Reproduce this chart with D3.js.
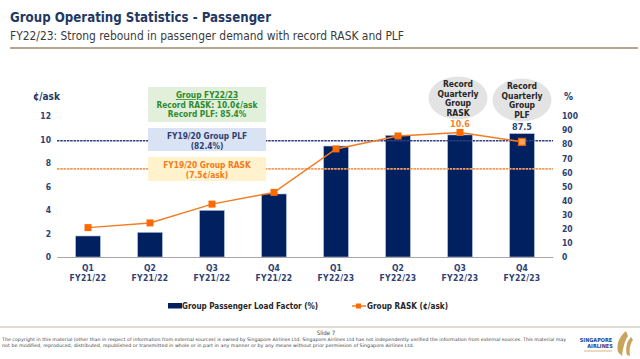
<!DOCTYPE html>
<html>
<head>
<meta charset="utf-8">
<title>Group Operating Statistics - Passenger</title>
<script src="https://d3js.org/d3.v7.min.js"></script>
<style>
  body { margin: 0; background: #fff; }
  svg text { font-family: "DejaVu Sans Condensed", "DejaVu Sans", sans-serif; font-stretch: condensed; }
</style>
</head>
<body>
<svg width="640" height="359"></svg>
<script>
// quarters (two line labels)
var quarters = ["Q1|FY21/22", "Q2|FY21/22", "Q3|FY21/22", "Q4|FY21/22",
                "Q1|FY22/23", "Q2|FY22/23", "Q3|FY22/23", "Q4|FY22/23"];
// group passenger load factor, % (bars, right axis)
var plf = [14.9, 17.5, 33.1, 44.7, 78.7, 86.3, 86.6, 87.5];
// group RASK, cents/ask (line, left axis)
var rask = [2.5, 2.9, 4.5, 5.5, 9.2, 10.3, 10.6, 9.8];
var leftTicks = [0, 2, 4, 6, 8, 10, 12];
var rightTicks = [0, 10, 20, 30, 40, 50, 60, 70, 80, 90, 100];
// FY19/20 reference levels
var refPLF = 82.4;
var refRASK = 7.5;

var navy = "#002060", orange = "#f47b20", textNavy = "#2e3f73";

var svg = d3.select("svg");

// header
svg.append("text").attr("x", 10).attr("y", 22)
    .attr("font-size", 13.5).attr("font-weight", "bold").attr("fill", "#1f3864")
    .attr("textLength", 261).attr("lengthAdjust", "spacingAndGlyphs")
    .text("Group Operating Statistics - Passenger");
svg.append("text").attr("x", 10).attr("y", 40)
    .attr("font-size", 12).attr("fill", "#3a3a3a")
    .attr("textLength", 394).attr("lengthAdjust", "spacingAndGlyphs")
    .text("FY22/23: Strong rebound in passenger demand with record RASK and PLF");
svg.append("line").attr("x1", 10).attr("x2", 638).attr("y1", 48).attr("y2", 48)
    .attr("stroke", "#a08a6c").attr("stroke-width", 1.5);

// scales
var x = d3.scaleBand().domain(quarters).range([57, 553]).paddingInner(0.6).paddingOuter(0.3);
var yL = d3.scaleLinear().domain([0, 12]).range([257, 116]);
var yR = d3.scaleLinear().domain([0, 100]).range([257, 116]);
var cx = function(d) { return x(d) + x.bandwidth() / 2; };

// bars
svg.append("g").selectAll("rect")
    .data(plf)
    .enter().append("rect")
    .attr("x", function(d, i) { return x(quarters[i]); })
    .attr("y", function(d) { return yR(d); })
    .attr("width", x.bandwidth())
    .attr("height", function(d) { return yR(0) - yR(d); })
    .attr("fill", navy)
    .attr("stroke", "#b4c0e0").attr("stroke-width", 0.6);

// x axis
var xAxis = svg.append("g").attr("transform", "translate(0,257)")
    .call(d3.axisBottom(x).tickSize(0).tickFormat(""));
xAxis.select(".domain").attr("stroke", "#a6a6a6").attr("stroke-width", 1.2);
xAxis.selectAll(".tick").each(function(d) {
    var parts = d.split("|");
    var t = d3.select(this).append("text")
        .attr("fill", textNavy).attr("font-size", 8.5).attr("font-weight", "bold")
        .attr("text-anchor", "middle");
    t.append("tspan").attr("x", 0).attr("y", 14).text(parts[0]);
    t.append("tspan").attr("x", 0).attr("y", 24).attr("letter-spacing", 0.3).text(parts[1]);
});

// left axis
var lAxis = svg.append("g").attr("transform", "translate(51,0)")
    .call(d3.axisLeft(yL).tickValues(leftTicks).tickSize(0).tickPadding(0));
lAxis.select(".domain").remove();
lAxis.selectAll("text").attr("fill", textNavy).attr("font-size", 8.5).attr("font-weight", "bold")
    .attr("font-family", "DejaVu Sans Condensed");
svg.append("text").attr("x", 33).attr("y", 100).attr("font-size", 10).attr("font-weight", "bold")
    .attr("fill", "#1f3864").text("¢/ask");

// right axis
var rAxis = svg.append("g").attr("transform", "translate(562,0)")
    .call(d3.axisRight(yR).tickValues(rightTicks).tickSize(0).tickPadding(0));
rAxis.select(".domain").remove();
rAxis.selectAll("text").attr("fill", textNavy).attr("font-size", 8.5).attr("font-weight", "bold")
    .attr("font-family", "DejaVu Sans Condensed");
svg.append("text").attr("x", 564).attr("y", 100).attr("font-size", 10).attr("font-weight", "bold")
    .attr("fill", "#1f3864").text("%");

// FY19/20 reference lines
svg.append("line").attr("x1", 57).attr("x2", 553).attr("y1", yR(refPLF)).attr("y2", yR(refPLF))
    .attr("stroke", "#2f3f7f").attr("stroke-width", 1.6).attr("stroke-dasharray", "2.5,0.8");
svg.append("line").attr("x1", 57).attr("x2", 553).attr("y1", yL(refRASK)).attr("y2", yL(refRASK))
    .attr("stroke", "#f59a5a").attr("stroke-width", 1.6).attr("stroke-dasharray", "2.5,0.8");

// RASK line
var line = d3.line()
    .x(function(d, i) { return cx(quarters[i]); })
    .y(function(d) { return yL(d); });
svg.append("path").datum(rask)
    .attr("d", line).attr("fill", "none")
    .attr("stroke", orange).attr("stroke-width", 1.5);
svg.append("g").selectAll("rect")
    .data(rask)
    .enter().append("rect")
    .attr("x", function(d, i) { return cx(quarters[i]) - 3.5; })
    .attr("y", function(d) { return yL(d) - 3.5; })
    .attr("width", 7).attr("height", 7)
    .attr("fill", function(d, i) { return i === 7 ? "#f7a35c" : "#ff6a00"; })
    .attr("stroke", function(d, i) { return i === 7 ? "#e0600a" : "none"; })
    .attr("stroke-width", 1.2);

// data labels
svg.append("text").attr("x", cx(quarters[6])).attr("y", yL(rask[6]) - 5)
    .attr("text-anchor", "middle").attr("font-size", 9).attr("font-weight", "bold")
    .attr("fill", "#f5842c").text(rask[6].toFixed(1));
svg.append("text").attr("x", cx(quarters[7])).attr("y", yR(plf[7]) - 4)
    .attr("text-anchor", "middle").attr("font-size", 9).attr("font-weight", "bold")
    .attr("fill", "#2e3f73").text(plf[7].toFixed(1));

// annotation boxes
function box(y0, h, fill, color, lines, underlineFirst) {
    svg.append("rect").attr("x", 148).attr("y", y0).attr("width", 118).attr("height", h).attr("fill", fill);
    var t = svg.append("text").attr("text-anchor", "middle").attr("font-size", 8.3)
        .attr("font-weight", "bold").attr("fill", color);
    lines.forEach(function(s, i) {
        var ts = t.append("tspan").attr("x", 207).attr("y", y0 + 11 + i * 9.5).text(s);
        if (i === 0 && underlineFirst) ts.attr("text-decoration", "underline");
    });
}
box(87, 35, "#e2efda", "#2e8b2e", ["Group FY22/23", "Record RASK: 10.0¢/ask", "Record PLF: 85.4%"], true);
box(128, 23, "#dae3f3", "#2e3f73", ["FY19/20 Group PLF", "(82.4%)"], false);
box(157, 24, "#fff2cc", "#f47b20", ["FY19/20 Group RASK", "(7.5¢/ask)"], false);

// record ellipses
function bubble(xc, yc, lines) {
    svg.append("ellipse").attr("cx", xc).attr("cy", yc).attr("rx", 29.5).attr("ry", 21.5).attr("fill", "#e3e3e3");
    var t = svg.append("text").attr("text-anchor", "middle").attr("font-size", 8.5)
        .attr("font-weight", "bold").attr("fill", "#262626");
    lines.forEach(function(s, i) {
        t.append("tspan").attr("x", xc).attr("y", yc - 11 + i * 9.5).text(s);
    });
}
bubble(cx(quarters[6]) - 2, 98, ["Record", "Quarterly", "Group", "RASK"]);
bubble(cx(quarters[7]), 100, ["Record", "Quarterly", "Group", "PLF"]);

// legend
svg.append("rect").attr("x", 168).attr("y", 303).attr("width", 14).attr("height", 5.5).attr("fill", navy);
svg.append("text").attr("x", 182).attr("y", 309).attr("font-size", 9).attr("font-weight", "bold")
    .attr("fill", "#262626").attr("textLength", 136).attr("lengthAdjust", "spacingAndGlyphs")
    .text("Group Passenger Load Factor (%)");
svg.append("line").attr("x1", 352).attr("x2", 366).attr("y1", 306).attr("y2", 306)
    .attr("stroke", orange).attr("stroke-width", 1.5);
svg.append("rect").attr("x", 356).attr("y", 303.5).attr("width", 5).attr("height", 5).attr("fill", "#ff6a00");
svg.append("text").attr("x", 367).attr("y", 309).attr("font-size", 9).attr("font-weight", "bold")
    .attr("fill", "#262626").attr("textLength", 81).attr("lengthAdjust", "spacingAndGlyphs")
    .text("Group RASK (¢/ask)");

// footer
svg.append("line").attr("x1", 0).attr("x2", 640).attr("y1", 327).attr("y2", 327)
    .attr("stroke", "#d6cfc4").attr("stroke-width", 1.5);
svg.append("text").attr("x", 326).attr("y", 335).attr("text-anchor", "middle")
    .attr("font-size", 6).attr("fill", "#444").text("Slide 7");
svg.append("text").attr("x", 2).attr("y", 341).attr("font-size", 4.6).attr("fill", "#444")
    .attr("textLength", 564).attr("lengthAdjust", "spacingAndGlyphs")
    .text("The copyright in this material (other than in respect of information from external sources) is owned by Singapore Airlines Ltd. Singapore Airlines Ltd has not independently verified the information from external sources. This material may");
svg.append("text").attr("x", 2).attr("y", 346.5).attr("font-size", 4.6).attr("fill", "#444")
    .attr("textLength", 412).attr("lengthAdjust", "spacingAndGlyphs")
    .text("not be modified, reproduced, distributed, republished or transmitted in whole or in part in any manner or by any means without prior permission of Singapore Airlines Ltd.");

// logo
svg.append("text").attr("x", 596).attr("y", 342).attr("text-anchor", "middle")
    .attr("font-size", 5.5).attr("font-weight", "bold").attr("fill", "#1f3f8f").text("SINGAPORE");
svg.append("text").attr("x", 600).attr("y", 348).attr("text-anchor", "middle")
    .attr("font-size", 5.5).attr("font-weight", "bold").attr("fill", "#1f3f8f").text("AIRLINES");
svg.append("line").attr("x1", 584).attr("x2", 612).attr("y1", 351).attr("y2", 351)
    .attr("stroke", "#c9a45c").attr("stroke-width", 0.8);
svg.append("path")
    .attr("d", "M626,331 C620,336 616,343 618,352 L622,356 C623,349 624,342 628,336 Z M631,337 C627,341 625,348 627,355 L630,356 C629,350 630,344 633,340 Z")
    .attr("fill", "#c9a45c");
</script>
</body>
</html>
